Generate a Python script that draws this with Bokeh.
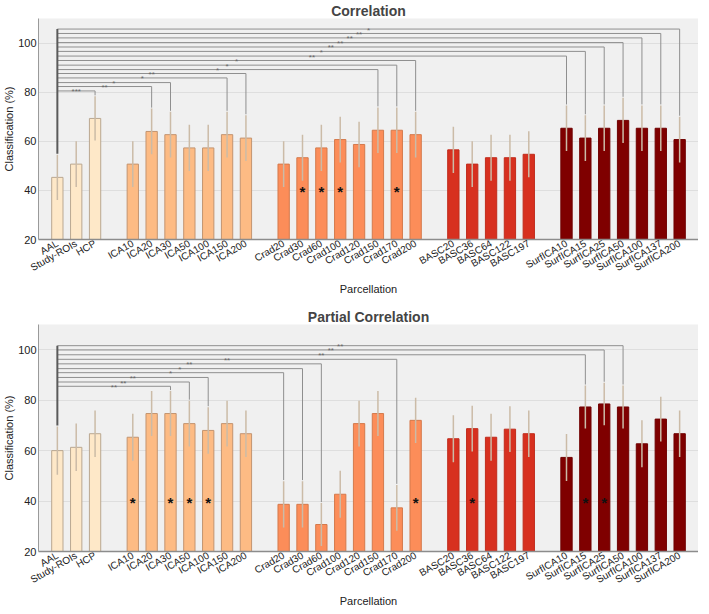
from bokeh.plotting import figure
from bokeh.models import Range1d, FixedTicker, ColumnDataSource, Title
from bokeh.layouts import column
from bokeh.core.properties import value
from bokeh.embed import file_html
from bokeh.resources import INLINE

labels = ["AAL", "Study-ROIs", "HCP",
          "ICA10", "ICA20", "ICA30", "ICA50", "ICA100", "ICA150", "ICA200",
          "Crad20", "Crad30", "Crad60", "Crad100", "Crad120", "Crad150", "Crad170", "Crad200",
          "BASC20", "BASC36", "BASC64", "BASC122", "BASC197",
          "SurfICA10", "SurfICA15", "SurfICA25", "SurfICA50", "SurfICA100", "SurfICA137", "SurfICA200"]
groups = [0, 0, 0,
          1, 1, 1, 1, 1, 1, 1,
          2, 2, 2, 2, 2, 2, 2, 2,
          3, 3, 3, 3, 3,
          4, 4, 4, 4, 4, 4, 4]

corr_vals = [45.3, 50.7, 69.3,
             50.7, 64.0, 62.7, 57.3, 57.3, 62.7, 61.3,
             50.7, 53.3, 57.3, 60.7, 58.7, 64.5, 64.5, 62.7,
             56.5, 50.7, 53.3, 53.3, 54.7,
             65.3, 61.3, 65.3, 68.5, 65.3, 65.3, 60.7]
corr_errs = [9.2, 9.3, 9.0,
             9.3, 9.3, 9.3, 9.4, 9.4, 9.3, 9.3,
             9.3, 9.4, 9.4, 9.3, 9.3, 9.3, 9.3, 9.3,
             9.4, 9.3, 9.4, 9.4, 9.4,
             9.3, 9.3, 9.3, 9.2, 9.3, 9.3, 9.3]

partial_vals = [60.0, 61.3, 66.7,
                65.3, 74.7, 74.7, 70.7, 68.0, 70.7, 66.7,
                38.7, 38.7, 30.7, 42.7, 70.7, 74.7, 37.3, 72.0,
                64.7, 68.7, 65.3, 68.5, 66.7,
                57.3, 77.3, 78.5, 77.3, 62.7, 72.5, 66.7]
partial_errs = [9.6, 9.4, 9.2,
                9.3, 8.9, 8.9, 9.1, 9.2, 9.1, 9.2,
                9.2, 9.2, 8.5, 9.3, 9.1, 8.9, 9.1, 9.0,
                9.3, 9.1, 9.3, 9.1, 9.2,
                9.3, 8.5, 8.4, 8.5, 9.3, 8.9, 9.2]

corr_sig_targets = ["HCP", "ICA20", "ICA30", "ICA150", "ICA200", "Crad150", "Crad170", "Crad200",
                    "SurfICA10", "SurfICA15", "SurfICA25", "SurfICA50", "SurfICA100", "SurfICA137", "SurfICA200"]
corr_sig_levels = [80.5, 82.3, 83.9, 85.8, 87.6, 89.2, 91.0, 92.9, 94.7, 96.6, 98.4, 100.2, 102.1, 103.9, 105.7]
corr_sig_marks = ["***", "**", "*", "*", "**", "*", "*", "*", "**", "*", "**", "**", "**", "**", "*"]
corr_star_bars = ["Crad30", "Crad60", "Crad100", "Crad170"]

partial_sig_targets = ["ICA30", "ICA50", "ICA100", "Crad20", "Crad30", "Crad60", "Crad170",
                       "SurfICA15", "SurfICA25", "SurfICA50"]
partial_sig_levels = [85.5, 87.2, 89.0, 90.9, 92.5, 94.4, 96.2, 98.0, 99.9, 101.6]
partial_sig_marks = ["**", "**", "**", "*", "*", "**", "**", "**", "**", "**"]
partial_star_bars = ["ICA10", "ICA30", "ICA50", "ICA100", "Crad200", "BASC36", "SurfICA15", "SurfICA25"]

star_level = 41
y_ticks = [20, 40, 60, 80, 100]
group_fill = ["#fee8c8", "#fdbb84", "#fc8d59", "#d7301f", "#7f0000"]
group_line = ["#b9a791", "#c39470", "#d47a4c", "#c02c1c", "#700000"]

FONT = "Liberation Sans"
positions = [i + g for i, g in enumerate(groups)]
pos_of = dict(zip(labels, positions))
idx_of = {l: i for i, l in enumerate(labels)}


def make_panel(title, vals, errs, sig_targets, sig_levels, sig_marks, star_bars, height, top_border):
    p = figure(width=698, height=height, x_range=Range1d(-1, 34), y_range=Range1d(20, 110),
               output_backend="svg", toolbar_location=None, title=title,
               min_border_top=top_border, min_border_left=0, min_border_right=0, min_border_bottom=0)
    p.title.align = "center"
    p.title.text_font = FONT
    p.title.text_font_size = "14px"
    p.title.text_font_style = "bold"
    p.title.standoff = 0
    p.title.offset = 0
    p.background_fill_color = "#f0f0f0"
    p.border_fill_color = "white"
    p.outline_line_color = None

    src = ColumnDataSource(dict(
        x=positions, top=vals,
        lo=[v - e for v, e in zip(vals, errs)],
        hi=[v + e for v, e in zip(vals, errs)],
        fill=[group_fill[g] for g in groups],
        line=[group_line[g] for g in groups],
    ))
    p.vbar(x="x", top="top", bottom=20, width=0.6, fill_color="fill", line_color="line",
           line_width=1, source=src)
    p.segment(x0="x", y0="lo", x1="x", y1="hi", line_color="#cbbba7", line_width=1.5, source=src)

    # significance brackets from AAL
    base = pos_of["AAL"]
    base_top = vals[0] + errs[0]
    hx0, hx1, hy = [], [], []
    vx, vy0, vy1 = [], [], []
    mx, my, mt = [], [], []
    for t, lev, m in zip(sig_targets, sig_levels, sig_marks):
        tx = pos_of[t]
        i = idx_of[t]
        hx0.append(base); hx1.append(tx); hy.append(lev)
        vx.append(tx); vy0.append(lev); vy1.append(vals[i] + errs[i] + 0.4)
        mx.append((base + tx) / 2); my.append(lev); mt.append(m)
    p.segment(x0=hx0, y0=hy, x1=hx1, y1=hy, line_color="#8f8f8f", line_width=1)
    p.segment(x0=vx, y0=vy0, x1=vx, y1=vy1, line_color="#8f8f8f", line_width=1)
    p.segment(x0=[base], y0=[max(sig_levels)], x1=[base], y1=[base_top + 0.4],
              line_color="#5a5a5a", line_width=2)
    p.text(x=mx, y=my, text=mt, text_align="center", text_baseline="middle",
           text_font=value(FONT), text_font_size="8px", text_color="#666666", y_offset=1)

    # asterisks inside bars
    sx = [pos_of[b] for b in star_bars]
    p.text(x=sx, y=[star_level] * len(sx), text=["*"] * len(sx), text_align="center",
           text_baseline="middle", text_font=value(FONT), text_font_size="15px",
           text_font_style="bold", text_color="#111111", y_offset=4)

    # axes
    p.xaxis.ticker = FixedTicker(ticks=positions)
    p.xaxis.major_label_overrides = {pos: lab for pos, lab in zip(positions, labels)}
    p.xaxis.major_label_orientation = 0.52
    p.xaxis.major_label_text_font = FONT
    p.xaxis.major_label_text_font_size = "10px"
    p.xaxis.major_label_text_color = "#222222"
    p.xaxis.major_label_standoff = 3
    p.xaxis.major_tick_line_color = None
    p.xaxis.minor_tick_line_color = None
    p.xaxis.major_tick_out = 0
    p.xaxis.major_tick_in = 0
    p.xaxis.axis_line_color = "#8c8c8c"
    p.xaxis.axis_line_width = 1.5

    p.add_layout(Title(text="Parcellation", align="center", text_font=FONT,
                       text_font_size="11px", text_font_style="normal",
                       text_color="#222222", standoff=0, offset=0), "below")

    p.yaxis.ticker = FixedTicker(ticks=y_ticks)
    p.yaxis.major_label_text_font = FONT
    p.yaxis.major_label_text_font_size = "11px"
    p.yaxis.major_label_text_color = "#222222"
    p.yaxis.major_label_standoff = 2
    p.yaxis.major_tick_line_color = None
    p.yaxis.minor_tick_line_color = None
    p.yaxis.major_tick_out = 0
    p.yaxis.major_tick_in = 0
    p.yaxis.axis_line_color = "#9a9a9a"
    p.yaxis.axis_label = "Classification (%)"
    p.yaxis.axis_label_text_font = FONT
    p.yaxis.axis_label_text_font_size = "11px"
    p.yaxis.axis_label_text_font_style = "normal"
    p.yaxis.axis_label_text_color = "#222222"
    p.yaxis.axis_label_standoff = 0

    p.xgrid.grid_line_color = None
    p.ygrid.ticker = FixedTicker(ticks=y_ticks)
    p.ygrid.grid_line_color = "#dedede"
    p.ygrid.grid_line_width = 1
    return p


p1 = make_panel("Correlation", corr_vals, corr_errs, corr_sig_targets, corr_sig_levels,
                corr_sig_marks, corr_star_bars, 294, 0)
p2 = make_panel("Partial Correlation", partial_vals, partial_errs, partial_sig_targets,
                partial_sig_levels, partial_sig_marks, partial_star_bars, 312, 30)

layout = column(p1, p2, spacing=0)
open("out.html", "w").write(file_html(layout, INLINE))
